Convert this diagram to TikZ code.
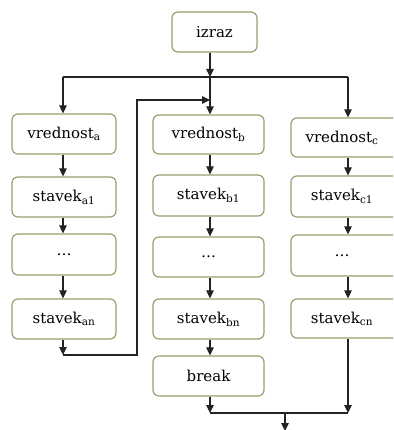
\documentclass[tikz,border=0pt]{standalone}
\usepackage{fontspec}
\setmainfont{DejaVu Serif}
\newfontfamily\tserif{DejaVu Serif}
\usetikzlibrary{arrows.meta}
\definecolor{boxc}{RGB}{146,162,112}
\definecolor{linec}{RGB}{35,35,35}
\tikzset{
  box/.style={draw=boxc, line width=1.2pt, rounded corners=6pt, fill=white, inner sep=0pt, font=\tserif\fontsize{15}{17}\selectfont},
  arr/.style={draw=linec, line width=1.1pt, -{Triangle[length=8pt,width=7.5pt]}},
  ln/.style={draw=linec, line width=1.1pt}
}
\begin{document}
\begin{tikzpicture}[x=1pt,y=-1pt]
\useasboundingbox (0,0) rectangle (393,430);
\clip (0,0) rectangle (393,430);
% boxes
\node[box, minimum width=85pt, minimum height=40pt] (iz) at (214.5,32) {izraz};
% column a
\node[box, minimum width=104pt, minimum height=40pt] (va) at (64,134) {vrednost\textsubscript{a}};
\node[box, minimum width=104pt, minimum height=40pt] (sa1) at (64,197) {stavek\textsubscript{a1}};
\node[box, minimum width=104pt, minimum height=41pt] (da) at (64,254.5) {\dots};
\node[box, minimum width=104pt, minimum height=40pt] (san) at (64,319) {stavek\textsubscript{an}};
% column b
\node[box, minimum width=111pt, minimum height=39pt] (vb) at (208.5,134.5) {vrednost\textsubscript{b}};
\node[box, minimum width=111pt, minimum height=41pt] (sb1) at (208.5,195.5) {stavek\textsubscript{b1}};
\node[box, minimum width=111pt, minimum height=40pt] (db) at (208.5,257) {\dots};
\node[box, minimum width=111pt, minimum height=40pt] (sbn) at (208.5,319) {stavek\textsubscript{bn}};
\node[box, minimum width=111pt, minimum height=40pt] (br) at (208.5,376) {break};
% column c
\node[box, minimum width=114pt, minimum height=39pt] (vc) at (348,137.5) {\hspace*{-12pt}vrednost\textsubscript{c}};
\node[box, minimum width=114pt, minimum height=41pt] (sc1) at (348,196.5) {\hspace*{-12pt}stavek\textsubscript{c1}};
\node[box, minimum width=114pt, minimum height=41pt] (dc) at (348,255.5) {\hspace*{-12pt}\dots};
\node[box, minimum width=114pt, minimum height=39pt] (scn) at (348,318.5) {\hspace*{-12pt}stavek\textsubscript{cn}};
% connectors
\coordinate (j) at (210,77);
\coordinate (jl) at (63,77);
\coordinate (jr) at (348,77);
\draw[arr] (iz.south -| j) -- (j);
\draw[ln] (jl) -- (jr);
\draw[arr] (jl) -- (va.north -| jl);
\draw[arr] (j) -- (vb.north -| j);
\draw[arr] (jr) -- (vc.north -| jr);
% column a
\draw[arr] (va.south -| jl) -- (sa1.north -| jl);
\draw[arr] (sa1.south -| jl) -- (da.north -| jl);
\draw[arr] (da.south -| jl) -- (san.north -| jl);
\coordinate (ca) at (63,355);
\coordinate (cb) at (137,355);
\coordinate (cc) at (137,100);
\coordinate (cd) at (210,100);
\draw[arr] (san.south -| jl) -- (ca);
\draw[arr] (ca) -- (cb) -- (cc) -- (cd);
% column b
\draw[arr] (vb.south -| j) -- (sb1.north -| j);
\draw[arr] (sb1.south -| j) -- (db.north -| j);
\draw[arr] (db.south -| j) -- (sbn.north -| j);
\draw[arr] (sbn.south -| j) -- (br.north -| j);
% column c
\draw[arr] (vc.south -| jr) -- (sc1.north -| jr);
\draw[arr] (sc1.south -| jr) -- (dc.north -| jr);
\draw[arr] (dc.south -| jr) -- (scn.north -| jr);
% bottom
\coordinate (bl) at (210,413);
\coordinate (brr) at (348,413);
\coordinate (bm) at (285,413);
\coordinate (be) at (285,431);
\draw[arr] (br.south -| bl) -- (bl);
\draw[arr] (scn.south -| brr) -- (brr);
\draw[ln] (bl) -- (brr);
\draw[arr] (bm) -- (be);
\end{tikzpicture}
\end{document}
